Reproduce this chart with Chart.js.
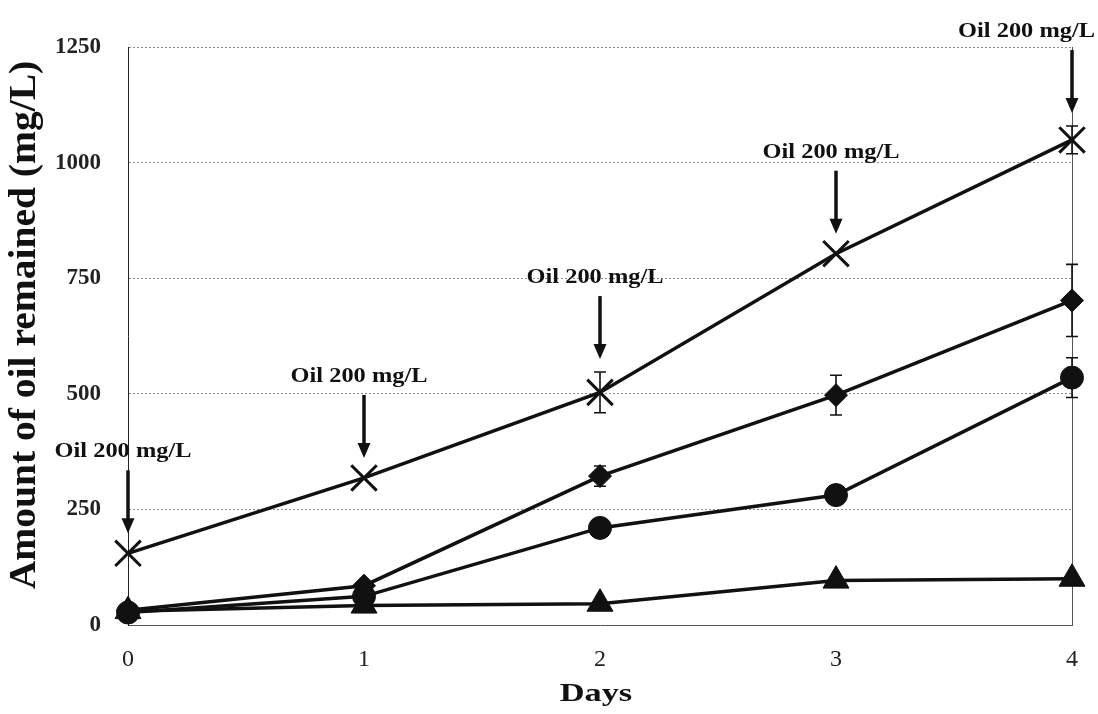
<!DOCTYPE html>
<html>
<head>
<meta charset="utf-8">
<script src="https://cdn.jsdelivr.net/npm/chart.js@4.4.1/dist/chart.umd.min.js"></script>
<style>
  html, body { margin: 0; padding: 0; background: #fff; }
  #wrap { width: 1098px; height: 714px; position: relative; }
</style>
</head>
<body>
<div id="wrap"><canvas id="c"></canvas></div>
<script>
// Days of the experiment and y-axis ticks (mg/L)
const days = [0, 1, 2, 3, 4];
const yTicks = [0, 250, 500, 750, 1000, 1250];

// Oil remaining (mg/L) for each treatment
const seriesCross    = [155, 318, 503, 803, 1049];
const seriesDiamond  = [32, 85, 322, 497, 702];
const seriesCircle   = [27, 62, 210, 281, 535];
const seriesTriangle = [30, 42, 46, 96, 100];

// Standard deviations (null = no bar shown)
const errCross    = [null, null, 44, null, 30];
const errDiamond  = [null, null, 22, 43, 78];
const errCircle   = [null, null, null, null, 43];
const errTriangle = [null, null, null, null, null];

// Daily oil addition marked above the cross series
const additionLabel = 'Oil 200 mg/L';
const additionDays = [0, 1, 2, 3, 4];

const yTitle = 'Amount of oil remained (mg/L)';
const xTitle = 'Days';

const INK = '#111';
const SERIF = '"Liberation Serif", serif';

function pts(vals) { return days.map((d, i) => ({ x: d, y: vals[i] })); }

function lineSet(vals, errs, style, radius, bw) {
  return {
    data: pts(vals),
    errors: errs,
    borderColor: INK,
    borderWidth: 3.5,
    tension: 0,
    fill: false,
    clip: false,
    pointStyle: style,
    pointRadius: radius,
    pointHoverRadius: radius,
    pointBackgroundColor: INK,
    pointBorderColor: INK,
    pointBorderWidth: bw
  };
}

// Text drawn with a horizontal stretch factor
function drawText(ctx, text, x, y, font, sx, rot) {
  ctx.save();
  ctx.translate(x, y);
  if (rot) ctx.rotate(rot);
  ctx.scale(sx, 1);
  ctx.font = font;
  ctx.fillStyle = INK;
  ctx.textAlign = 'center';
  ctx.textBaseline = 'middle';
  ctx.fillText(text, 0, 0);
  ctx.restore();
}

function drawArrow(ctx, x, yTop, yTip) {
  const head = 15, hw = 6.5;
  ctx.lineWidth = 3.5;
  ctx.strokeStyle = INK;
  ctx.fillStyle = INK;
  ctx.beginPath();
  ctx.moveTo(x, yTop);
  ctx.lineTo(x, yTip - head + 2);
  ctx.stroke();
  ctx.beginPath();
  ctx.moveTo(x - hw, yTip - head);
  ctx.lineTo(x + hw, yTip - head);
  ctx.lineTo(x, yTip);
  ctx.closePath();
  ctx.fill();
}

const decorations = {
  id: 'decorations',
  beforeDatasetsDraw(chart) {
    const { ctx, chartArea: a } = chart;
    ctx.save();
    ctx.strokeStyle = '#555';
    ctx.lineWidth = 1;
    ctx.beginPath();
    ctx.moveTo(a.right + 0.5, a.top);
    ctx.lineTo(a.right + 0.5, a.bottom);
    ctx.stroke();
    ctx.restore();
  },
  afterDatasetsDraw(chart) {
    const { ctx, scales: { x, y } } = chart;
    ctx.save();
    // error bars
    ctx.strokeStyle = INK;
    ctx.lineWidth = 1.6;
    chart.data.datasets.forEach(ds => {
      ds.data.forEach((p, i) => {
        const e = ds.errors[i];
        if (e == null) return;
        const px = x.getPixelForValue(p.x);
        const y1 = y.getPixelForValue(p.y + e);
        const y2 = y.getPixelForValue(p.y - e);
        ctx.beginPath();
        ctx.moveTo(px, y1); ctx.lineTo(px, y2);
        ctx.moveTo(px - 6, y1); ctx.lineTo(px + 6, y1);
        ctx.moveTo(px - 6, y2); ctx.lineTo(px + 6, y2);
        ctx.stroke();
      });
    });
    // oil addition arrows and labels
    const annFont = 'bold 20px ' + SERIF;
    const annStretch = 1.22;
    ctx.font = annFont;
    const annW = ctx.measureText(additionLabel).width * annStretch;
    additionDays.forEach(d => {
      const i = days.indexOf(d);
      const v = seriesCross[i];
      const e = errCross[i];
      const px = x.getPixelForValue(d);
      let tip = y.getPixelForValue(v) - 20;
      if (e != null) tip = Math.min(tip, y.getPixelForValue(v + e) - 13);
      const top = tip - 63;
      drawArrow(ctx, px, top, tip);
      const tx = Math.min(px - 5, chart.width - 3 - annW / 2);
      drawText(ctx, additionLabel, tx, top - 18, annFont, annStretch, 0);
    });
    ctx.restore();
  },
  afterDraw(chart) {
    const { ctx, chartArea: a } = chart;
    drawText(ctx, yTitle, 25, 325, 'bold 38px ' + SERIF, 1.04, -Math.PI / 2);
    drawText(ctx, xTitle, (a.left + a.right) / 2 - 4, 694, 'bold 26px ' + SERIF, 1.32, 0);
  }
};

function build() {
  new Chart(document.getElementById('c'), {
    type: 'line',
    data: {
      datasets: [
        lineSet(seriesTriangle, errTriangle, 'triangle', 15, 1),
        lineSet(seriesCircle, errCircle, 'circle', 11.5, 1),
        lineSet(seriesDiamond, errDiamond, 'rectRot', 11.5, 1),
        lineSet(seriesCross, errCross, 'crossRot', 18, 3)
      ]
    },
    options: {
      responsive: true,
      maintainAspectRatio: false,
      animation: false,
      devicePixelRatio: 1,
      layout: { padding: { top: 47, right: 20, left: 0, bottom: 0 } },
      plugins: { legend: { display: false }, tooltip: { enabled: false } },
      scales: {
        x: {
          type: 'linear',
          min: days[0],
          max: days[days.length - 1],
          afterBuildTicks: s => { s.ticks = days.map(v => ({ value: v })); },
          afterFit: s => { s.height = 89; },
          grid: { display: false, drawTicks: false },
          border: { display: true, color: '#555', width: 1 },
          ticks: {
            padding: 20,
            color: '#222',
            callback: v => String(v),
            font: { family: SERIF, size: 24, weight: 'normal' }
          }
        },
        y: {
          min: yTicks[0],
          max: yTicks[yTicks.length - 1],
          afterBuildTicks: s => { s.ticks = yTicks.map(v => ({ value: v })); },
          afterFit: s => { s.width = 128; },
          grid: { color: '#8a8a8a', lineWidth: 1, drawTicks: false },
          border: { display: true, color: '#222', width: 1, dash: [2, 2] },
          ticks: {
            padding: 27,
            color: '#222',
            callback: v => String(v),
            font: { family: SERIF, size: 23, weight: 'bold' }
          }
        }
      }
    },
    plugins: [decorations]
  });
}

Promise.all([
  document.fonts.load('bold 20px "Liberation Serif"'),
  document.fonts.load('20px "Liberation Serif"')
]).catch(() => {}).then(build);
</script>
</body>
</html>
